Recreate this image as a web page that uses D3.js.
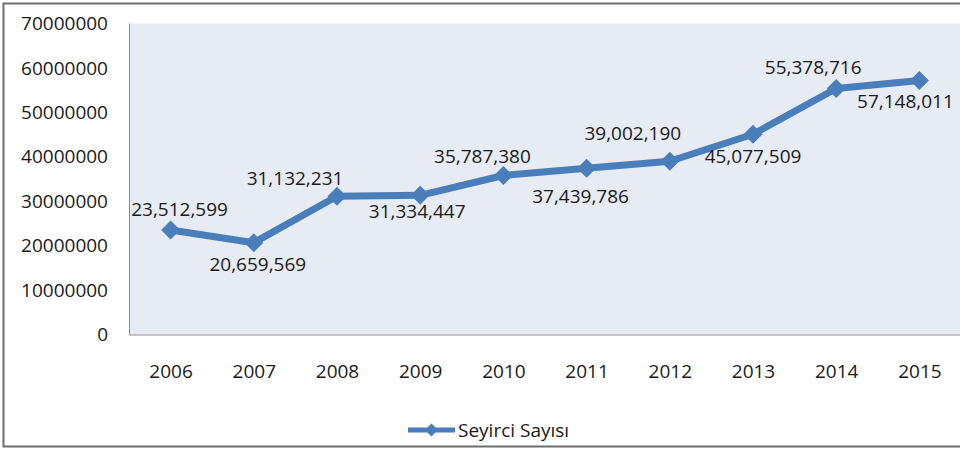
<!DOCTYPE html>
<html>
<head>
<meta charset="utf-8">
<script src="https://cdn.jsdelivr.net/npm/d3@7"></script>
<style>
  body { margin: 0; background: #fff; }
  svg { display: block; }
</style>
</head>
<body>
<div id="chart"></div>
<script>
// Chart data
const years = ["2006", "2007", "2008", "2009", "2010", "2011", "2012", "2013", "2014", "2015"];
const seyirci = [23512599, 20659569, 31132231, 31334447, 35787380, 37439786, 39002190, 45077509, 55378716, 57148011];
const yTicks = [0, 10000000, 20000000, 30000000, 40000000, 50000000, 60000000, 70000000];
const seriesName = "Seyirci Sayısı";

// label placement relative to each point (px)
const labelOffsets = [[9, -21], [4, 21], [-42, -18], [-3, 16], [-21, -20], [-6, 28], [-37, -28], [0, 22], [-23, -21], [-14, 20]];

const W = 960, H = 451;
const plot = { left: 129, right: 961, top: 23.5, bottom: 334.5 };

const svg = d3.select("#chart").append("svg")
    .attr("width", W)
    .attr("height", H);

// outer frame
svg.append("rect")
    .attr("x", 3.5).attr("y", 3.5)
    .attr("width", W + 10).attr("height", 443)
    .attr("fill", "#fff")
    .attr("stroke", "#6d6d6d")
    .attr("stroke-width", 2);

let x = d3.scalePoint()
    .domain(years)
    .range([plot.left, plot.right])
    .padding(0.5);

let y = d3.scaleLinear()
    .domain([0, 70000000])
    .range([plot.bottom, plot.top]);

// plot background
svg.append("rect")
    .attr("x", plot.left).attr("y", plot.top)
    .attr("width", plot.right - plot.left)
    .attr("height", plot.bottom - plot.top)
    .attr("fill", "#e7ebf3");

// axis lines
svg.append("line")
    .attr("x1", plot.left + 0.5).attr("x2", plot.left + 0.5)
    .attr("y1", plot.top).attr("y2", plot.bottom)
    .attr("stroke", "#8c8c8c");
svg.append("line")
    .attr("x1", plot.left).attr("x2", plot.right)
    .attr("y1", plot.bottom + 0.5).attr("y2", plot.bottom + 0.5)
    .attr("stroke", "#8c8c8c");

// Y axis
let yAxis = svg.append("g")
    .attr("transform", `translate(${plot.left}, 0)`)
    .call(d3.axisLeft(y).tickValues(yTicks).tickFormat(d3.format("d")).tickSize(0).tickPadding(21));
yAxis.select(".domain").remove();
yAxis.selectAll("text")
    .style("font-family", "'Open Sans', sans-serif")
    .style("font-size", "19px")
    .attr("fill", "#1a1a1a");

// X axis
let xAxis = svg.append("g")
    .attr("transform", `translate(0, ${plot.bottom})`)
    .call(d3.axisBottom(x).tickSize(0).tickPadding(30));
xAxis.select(".domain").remove();
xAxis.selectAll("text")
    .style("font-family", "'Open Sans', sans-serif")
    .style("font-size", "19px")
    .attr("fill", "#1a1a1a");

const blue = "#4a7ebb";

let line = d3.line()
    .x((d, i) => x(years[i]))
    .y(d => y(d));

svg.append("path")
    .datum(seyirci)
    .attr("fill", "none")
    .attr("stroke", blue)
    .attr("stroke-width", 7)
    .attr("stroke-linejoin", "round")
    .attr("d", line);

let diamond = d3.symbol().type(d3.symbolDiamond2).size(230);

svg.selectAll(".dot")
    .data(seyirci)
    .enter().append("path")
    .attr("class", "dot")
    .attr("transform", (d, i) => `translate(${x(years[i])}, ${y(d)})`)
    .attr("d", diamond)
    .attr("fill", blue);

// data labels
svg.selectAll(".lbl")
    .data(seyirci)
    .enter().append("text")
    .attr("class", "lbl")
    .attr("x", (d, i) => x(years[i]) + labelOffsets[i][0])
    .attr("y", (d, i) => y(d) + labelOffsets[i][1])
    .attr("text-anchor", "middle")
    .attr("dominant-baseline", "central")
    .style("font-family", "'Open Sans', sans-serif")
    .style("font-size", "19px")
    .attr("fill", "#1a1a1a")
    .text(d => d3.format(",")(d));

// legend
let legend = svg.append("g").attr("transform", "translate(408, 430)");
legend.append("line")
    .attr("x1", 0).attr("x2", 47)
    .attr("stroke", blue)
    .attr("stroke-width", 5);
legend.append("path")
    .attr("transform", "translate(23.5, 0)")
    .attr("d", d3.symbol().type(d3.symbolDiamond2).size(110))
    .attr("fill", blue);
legend.append("text")
    .attr("x", 50)
    .attr("dominant-baseline", "central")
    .style("font-family", "'Open Sans', sans-serif")
    .style("font-size", "19px")
    .attr("fill", "#1a1a1a")
    .text(seriesName);
</script>
</body>
</html>
